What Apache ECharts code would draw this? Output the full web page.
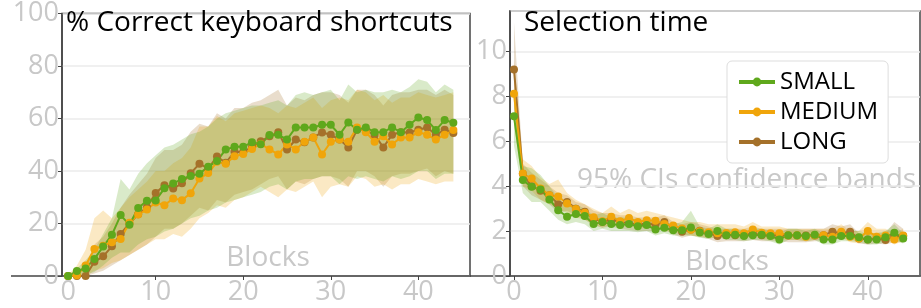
<!DOCTYPE html>
<html>
<head>
<meta charset="utf-8">
<script src="https://cdn.jsdelivr.net/npm/echarts@6/dist/echarts.min.js"></script>
<style>
html,body{margin:0;padding:0;background:#fff;}
#chart{width:921px;height:308px;}
</style>
</head>
<body>
<div id="chart"></div>
<script>
// block index (x)
const blocks = [0,1,2,3,4,5,6,7,8,9,10,11,12,13,14,15,16,17,18,19,20,21,22,23,24,25,26,27,28,29,30,31,32,33,34,35,36,37,38,39,40,41,42,43,44];
const xTicks = [0,10,20,30,40];

// % correct keyboard shortcuts (mean, CI low, CI high)
const accSmall = [0,1.9,2.9,6.5,11.2,15.7,23.2,19.5,25.9,28.7,28.8,33.4,35.2,37,38.1,39,41.6,43.8,48.2,49.2,49.2,51,50.2,53.7,53.8,52,56.6,56.6,56.6,57.6,57.6,53.8,58.5,55.7,56.6,54.8,54.8,56.6,54.8,57.6,60.4,59.4,55.6,59.4,58.4];
const accMedium = [0,0.3,4,10.3,11.5,12.9,14.1,20.3,23.4,25.3,28,27,29.5,28.9,31.5,37.1,39.2,43.5,42.8,45.6,46.5,48.4,50.3,48.2,46.3,50.1,48.2,51.1,52.8,46.3,51.1,52,51.1,56.6,54.8,51.1,53.2,50.1,52.8,52.8,54.8,53.8,52,53.8,55.6];
const accLong = [0,0,0,5.4,7.5,11.3,16,20,23.5,26.2,31.6,34.6,33.3,35.3,39.1,42.8,40.9,45.5,43.1,47.3,47.2,49.2,51.3,53.2,54.8,48.2,52,51,52.8,54.7,53.8,52,49,55.7,55.5,53.8,49,53.8,54.8,54.7,55.7,56.6,53.8,55.7,54.5];
const accSmallLo = [0,0,0.5,1.5,4,7,9,9,12,14,15,17,18,20,22,23,25,26,28,29,30,31,32,34,35,33,36,37,37,38,38,35,38,37,38,37,36,38,37,38,40,40,37,39,39];
const accSmallHi = [0.5,3,6,10,16,22,37,33,39,43,46,49,50,52,54,55,57,60,62,63,64,65,65,66,67,65,69,70,69,70,71,67,73,70,71,70,70,71,70,72,75,74,70,73,71];
const accMediumLo = [0,0,0,2,3,5,6,8,10,12,14,14,16,15,18,22,24,27,26,29,30,32,34,32,30,33,32,34,36,30,34,35,34,38,37,34,35,33,35,35,37,36,35,36,36];
const accMediumHi = [0.5,4,10,22,25,22,26,30,33,36,40,40,43,45,49,57,57,61,59,62,63,64,65,64,62,65,64,66,68,64,67,68,67,71,70,67,69,66,68,68,70,69,68,69,70];
const accLongLo = [0,0,0,1,2,4,6,8,10,12,15,18,18,20,23,26,25,29,28,31,32,33,35,37,38,33,36,35,37,38,38,37,34,40,40,38,34,38,39,39,40,41,38,40,39];
const accLongHi = [0.5,2,4,12,15,20,26,31,35,39,45,48,48,50,55,58,57,62,60,64,64,66,67,69,71,65,68,67,69,70,70,69,66,71,71,69,65,69,70,70,71,71,69,71,69];

// selection time (s)
const timeSmall = [7.11,4.27,3.97,3.85,3.41,2.93,2.64,2.76,2.67,2.31,2.41,2.31,2.27,2.31,2.22,2.27,2.07,2.15,2.04,2.04,2.16,1.94,1.87,2.0,1.82,1.84,1.78,1.82,1.84,1.78,1.63,1.82,1.82,1.78,1.84,1.63,1.63,1.78,1.78,1.72,1.63,1.63,1.72,1.93,1.67];
const timeMedium = [8.12,4.56,4.34,3.9,3.6,3.54,3.23,2.98,2.82,2.62,2.44,2.64,2.44,2.58,2.41,2.48,2.46,2.31,2.25,2.12,2.06,1.99,1.95,1.9,1.92,1.95,1.9,2.07,1.93,1.9,1.9,1.82,1.82,1.75,1.82,1.82,1.75,1.97,1.75,1.67,2.0,1.75,1.8,1.63,1.8];
const timeLong = [9.2,4.55,4.0,3.8,3.6,3.2,3.3,3.0,2.86,2.56,2.42,2.5,2.41,2.34,2.31,2.31,2.3,2.41,2.12,1.97,2.07,2.02,1.9,1.78,1.82,1.82,1.82,1.9,1.82,1.82,1.82,1.8,1.8,1.8,1.8,1.82,1.97,1.9,1.97,1.67,1.63,1.67,1.6,1.78,1.78];
const timeSmallLo = [5.8,3.7,3.3,3.3,2.9,2.5,2.3,2.4,2.3,2.0,2.1,2.0,2.0,2.0,1.95,2.0,1.8,1.9,1.8,1.8,1.8,1.7,1.65,1.75,1.6,1.6,1.55,1.6,1.6,1.55,1.4,1.6,1.6,1.55,1.6,1.4,1.4,1.55,1.55,1.5,1.4,1.4,1.5,1.6,1.45];
const timeSmallHi = [8.4,4.9,4.8,4.5,4.0,3.5,3.1,3.2,3.0,2.7,2.8,2.6,2.6,2.6,2.5,2.5,2.4,2.4,2.3,2.4,2.9,2.2,2.1,2.3,2.1,2.1,2.0,2.1,2.1,2.0,1.9,2.1,2.1,2.0,2.1,1.9,1.9,2.0,2.0,2.0,1.9,1.9,2.0,2.3,1.9];
const timeMediumLo = [6.8,4.0,3.8,3.4,3.2,3.0,2.8,2.6,2.5,2.3,2.15,2.3,2.15,2.25,2.1,2.15,2.15,2.0,1.95,1.85,1.8,1.75,1.7,1.7,1.7,1.7,1.65,1.8,1.65,1.6,1.65,1.6,1.6,1.55,1.6,1.6,1.55,1.7,1.5,1.45,1.7,1.5,1.6,1.4,1.55];
const timeMediumHi = [9.6,5.2,4.9,4.4,4.1,4.3,3.7,3.4,3.2,3.0,2.8,3.1,2.8,3.0,2.8,2.9,2.8,2.7,2.6,2.5,2.4,2.4,2.3,2.3,2.3,2.3,2.2,2.4,2.2,2.2,2.2,2.1,2.1,2.1,2.1,2.1,2.1,2.3,2.0,2.0,2.4,2.1,2.1,1.9,2.1];
const timeLongLo = [7.5,4.0,3.6,3.4,3.2,2.8,2.9,2.7,2.5,2.25,2.15,2.2,2.1,2.05,2.0,2.0,2.0,2.1,1.85,1.7,1.8,1.75,1.65,1.5,1.55,1.55,1.55,1.6,1.55,1.55,1.55,1.5,1.5,1.5,1.55,1.55,1.7,1.6,1.7,1.45,1.4,1.45,1.4,1.5,1.5];
const timeLongHi = [11.3,5.0,4.6,4.3,4.0,3.7,3.6,3.3,3.2,2.9,2.8,2.8,2.7,2.7,2.6,2.6,2.6,2.7,2.4,2.3,2.4,2.3,2.2,2.1,2.1,2.1,2.1,2.2,2.1,2.1,2.1,2.1,2.1,2.1,2.1,2.1,2.3,2.2,2.3,1.9,1.9,1.95,1.9,2.4,2.1];

const colors = { SMALL: '#5fa81c', MEDIUM: '#f0a50a', LONG: '#a5712a' };
const font = 'Open Sans';
const grey = '#c8c8c8';

function pts(arr) { return blocks.map((b, i) => [b, arr[i]]); }

// CI band drawn as one polygon (upper edge forward, lower edge back)
function band(panel, name, lo, hi) {
    return {
        type: 'custom', name: name + ' ci', xAxisIndex: panel, yAxisIndex: panel,
        silent: true, z: 1,
        data: blocks.map((b, i) => [b, lo[i], hi[i]]),
        encode: { x: 0, y: [1, 2] },
        renderItem: function (params, api) {
            if (params.dataIndex !== 0) return null;
            const up = blocks.map((b, i) => api.coord([b, hi[i]]));
            const down = blocks.map((b, i) => api.coord([b, lo[i]])).reverse();
            return {
                type: 'polygon',
                shape: { points: up.concat(down) },
                style: { fill: colors[name], opacity: 0.24 }
            };
        }
    };
}

function line(panel, name, mean) {
    return {
        type: 'line', name: name, xAxisIndex: panel, yAxisIndex: panel,
        data: pts(mean), symbol: 'circle', symbolSize: 8, showSymbol: true,
        lineStyle: { width: 2, color: colors[name] }, itemStyle: { color: colors[name] }, z: 3
    };
}

function xAxis(gridIndex, min, max) {
    return {
        type: 'value', gridIndex: gridIndex, min: min, max: max,
        axisLine: { show: true, onZero: false, lineStyle: { color: '#444', width: 1.5 } },
        axisTick: { show: true, length: 4, customValues: xTicks, lineStyle: { color: '#444' } },
        axisLabel: { customValues: xTicks, color: grey, fontSize: 27, fontFamily: font, margin: 3 },
        splitLine: { show: false }
    };
}

function yAxis(gridIndex, max, interval) {
    return {
        type: 'value', gridIndex: gridIndex, min: 0, max: max, interval: interval,
        axisLine: { show: true, onZero: false, lineStyle: { color: '#444', width: 1.5 } },
        axisTick: { show: true, length: 4, lineStyle: { color: '#444' } },
        axisLabel: { color: grey, fontSize: 27, fontFamily: font, margin: 3, showMaxLabel: max === 100 },
        splitLine: { show: true, lineStyle: { color: '#ebebeb', width: 1.5 } }
    };
}

const chart = echarts.init(document.getElementById('chart'));
chart.setOption({
    animation: false,
    backgroundColor: '#fff',
    title: [
        { text: '% Correct keyboard shortcuts', left: 66, top: 9, padding: 0,
          textStyle: { fontSize: 28, fontWeight: 'normal', color: '#000', fontFamily: font } },
        { text: 'Selection time', left: 524, top: 9, padding: 0,
          textStyle: { fontSize: 28, fontWeight: 'normal', color: '#000', fontFamily: font } }
    ],
    grid: [
        { left: 62, top: 11, width: 408, height: 265, show: true, borderColor: '#444', borderWidth: 1.5 },
        { left: 510, top: 11, width: 410, height: 265, show: true, borderColor: '#444', borderWidth: 1.5 }
    ],
    xAxis: [xAxis(0, -0.7, 45.9), xAxis(1, -0.45, 45.9)],
    yAxis: [yAxis(0, 100, 20), yAxis(1, 11.8, 2)],
    legend: {
        data: ['SMALL', 'MEDIUM', 'LONG'],
        orient: 'vertical', left: 727, top: 61,
        padding: [9, 10, 9, 10], itemGap: 6, itemWidth: 36, itemHeight: 11,
        backgroundColor: '#fff', borderColor: '#ddd', borderWidth: 1, borderRadius: 5,
        lineStyle: { width: 4 },
        textStyle: { fontSize: 24, fontFamily: font, color: '#000', lineHeight: 24 }
    },
    graphic: [
        { type: 'line', shape: { x1: 11, y1: 276, x2: 62, y2: 276 }, style: { stroke: '#444', lineWidth: 1.5 } },
        { type: 'line', shape: { x1: 470, y1: 276, x2: 510, y2: 276 }, style: { stroke: '#444', lineWidth: 1.5 } },
        { type: 'text', x: 268, y: 258, z: 0, style: { text: 'Blocks', fill: grey, font: '28px "Open Sans"', align: 'center', verticalAlign: 'middle' } },
        { type: 'text', x: 727, y: 262, z: 0, style: { text: 'Blocks', fill: grey, font: '28px "Open Sans"', align: 'center', verticalAlign: 'middle' } },
        { type: 'text', x: 577, y: 180, z: 0, style: { text: '95% CIs confidence bands', fill: grey, font: '28px "Open Sans"', align: 'left', verticalAlign: 'middle' } }
    ],
    series: [
        band(0, 'LONG', accLongLo, accLongHi),
        band(0, 'MEDIUM', accMediumLo, accMediumHi),
        band(0, 'SMALL', accSmallLo, accSmallHi),
        band(1, 'LONG', timeLongLo, timeLongHi),
        band(1, 'MEDIUM', timeMediumLo, timeMediumHi),
        band(1, 'SMALL', timeSmallLo, timeSmallHi),
        line(0, 'LONG', accLong),
        line(0, 'MEDIUM', accMedium),
        line(0, 'SMALL', accSmall),
        line(1, 'LONG', timeLong),
        line(1, 'MEDIUM', timeMedium),
        line(1, 'SMALL', timeSmall)
    ]
});
</script>
</body>
</html>
